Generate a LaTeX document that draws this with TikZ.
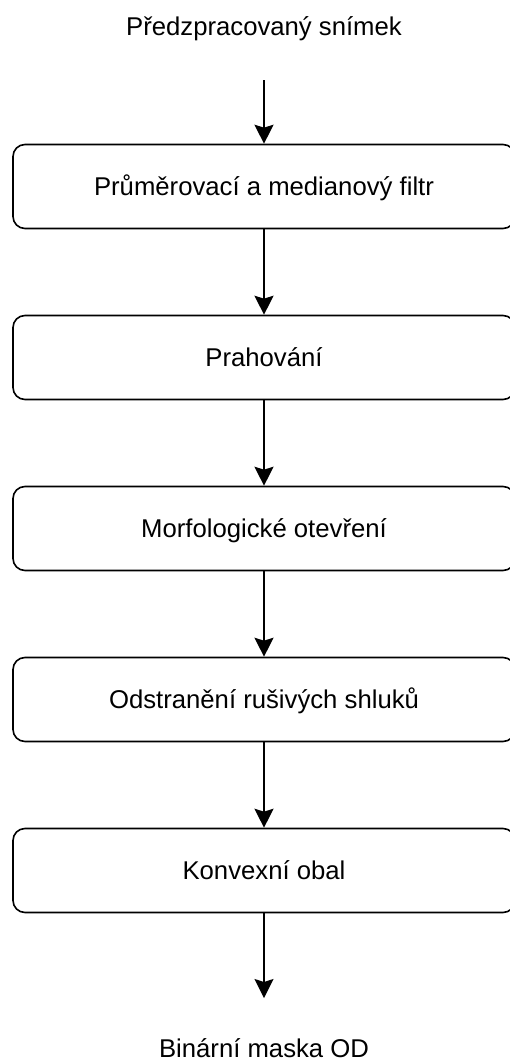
\documentclass[tikz,border=0pt]{standalone}
\usepackage{fontspec}
\setmainfont{Liberation Sans}
\usetikzlibrary{arrows.meta}
\begin{document}
\begin{tikzpicture}[x=1bp,y=-1bp,
  font=\fontsize{25.7bp}{30bp}\selectfont,
  stepbox/.style={draw, line width=1.6bp, rounded corners=12bp,
    minimum width=502bp, minimum height=84bp, inner sep=0pt,
    text height=17.6bp, text depth=0pt, anchor=center},
  label/.style={inner sep=0pt, anchor=base},
  flow/.style={line width=1.5bp, -{Stealth[length=19bp, width=19bp, inset=3bp]}}]
  \useasboundingbox (0,0) rectangle (510,1061);

  % input and output labels
  \node[label] (in)  at (264,35)   {Předzpracovaný snímek};
  \node[label] (out) at (264,1057) {Binární maska OD};

  % processing steps (right edge runs past the page)
  \node[stepbox] (b1) at (264,186.5) {Průměrovací a medianový filtr};
  \node[stepbox] (b2) at (264,357.5) {Prahování};
  \node[stepbox] (b3) at (264,528.5) {Morfologické otevření};
  \node[stepbox] (b4) at (264,699.5) {Odstranění rušivých shluků};
  \node[stepbox] (b5) at (264,870.5) {Konvexní obal};

  % free ends of the first and last arrow
  \coordinate (start) at (264,80);
  \coordinate (stop) at (264,998);

  \draw[flow] (start) -- (b1.north);
  \draw[flow] (b1.south) -- (b2.north);
  \draw[flow] (b2.south) -- (b3.north);
  \draw[flow] (b3.south) -- (b4.north);
  \draw[flow] (b4.south) -- (b5.north);
  \draw[flow] (b5.south) -- (stop);
\end{tikzpicture}
\end{document}
